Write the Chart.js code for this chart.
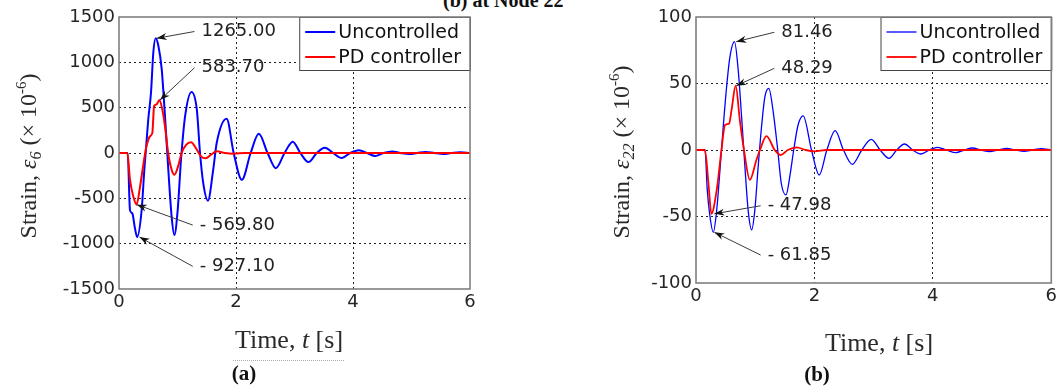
<!DOCTYPE html>
<html>
<head>
<meta charset="utf-8">
<script src="https://cdn.jsdelivr.net/npm/chart.js@4/dist/chart.umd.min.js"></script>
<style>
  html, body { margin: 0; padding: 0; background: #fff; }
  body { width: 1056px; height: 387px; position: relative; overflow: hidden; }
  #chartA { position: absolute; left: 0; top: 0; }
  #chartB { position: absolute; left: 545px; top: 0; }
  #topnote { position: absolute; left: 443px; top: -10px; font: bold 20px "Liberation Serif"; line-height: 20px; color: #111; white-space: nowrap; }
</style>
</head>
<body>
<div id="topnote">(b) at Node 22</div>
<canvas id="chartA" width="540" height="387"></canvas>
<canvas id="chartB" width="515" height="387"></canvas>
<script>
// values
const seriesNames = ['Uncontrolled', 'PD controller'];
const xTickValues = [0, 2, 4, 6];
const yTicksA = [-1500, -1000, -500, 0, 500, 1000, 1500];
const yTicksB = [-100, -50, 0, 50, 100];

// (a) strain e6
const timeUncA = [0, 0.148, 0.188, 0.228, 0.27, 0.31, 0.387, 0.433, 0.50, 0.547, 0.587, 0.628, 0.672, 0.73, 0.786, 0.843, 0.90, 0.946, 1.003, 1.06, 1.13, 1.24, 1.33, 1.385, 1.44, 1.52, 1.61, 1.67, 1.84, 1.96, 2.10, 2.25, 2.39, 2.54, 2.68, 2.83, 2.97, 3.10, 3.24, 3.38, 3.52, 3.66, 3.81, 3.95, 4.10, 4.24, 4.38, 4.52, 4.67, 4.81, 4.96, 5.10, 5.24, 5.39, 5.54, 5.68, 5.83, 6.0];
const strainUncA = [0, 0, -630, -667, -820, -927, -630, -185, 370, 667, 1111, 1265, 1185, 926, 407, -185, -704, -905, -630, -74, 407, 674, 481, 0, -333, -526, -185, 111, 378, 0, -296, 0, 211, 0, -167, 0, 125, 0, -100, 0, 58, 0, -55, 0, 30, 0, -33, 0, 17, 0, -12, 0, 11, 0, -10, 0, 9, 0];
const timePdA = [0, 0.143, 0.188, 0.245, 0.30, 0.36, 0.42, 0.47, 0.53, 0.57, 0.60, 0.644, 0.69, 0.74, 0.786, 0.84, 0.90, 0.946, 1.01, 1.07, 1.15, 1.23, 1.33, 1.40, 1.48, 1.58, 1.67, 1.81, 1.96, 2.15, 6.0];
const strainPdA = [0, 0, -296, -481, -570, -370, -111, 74, 185, 222, 518, 537, 584, 481, 296, 0, -185, -241, -148, 0, 93, 119, 37, -37, -59, -15, 19, 0, -8, 0, 0];

// (b) strain e22
const timeUncB = [0, 0.152, 0.19, 0.236, 0.292, 0.35, 0.405, 0.46, 0.517, 0.573, 0.65, 0.713, 0.77, 0.826, 0.88, 0.94, 0.994, 1.05, 1.107, 1.163, 1.23, 1.30, 1.38, 1.44, 1.52, 1.584, 1.65, 1.724, 1.81, 1.95, 2.08, 2.21, 2.35, 2.49, 2.64, 2.80, 2.96, 3.11, 3.26, 3.39, 3.52, 3.66, 3.80, 3.94, 4.08, 4.23, 4.39, 4.53, 4.67, 4.81, 4.96, 5.10, 5.25, 5.39, 5.54, 5.68, 5.83, 6.0];
const strainUncB = [0, 0, -30, -50, -61.85, -45, -15, 17.5, 47.6, 70, 81.46, 60, 25, -12.5, -45, -60, -45, -12.5, 17.5, 40, 46.4, 30, 0, -25, -33.8, -20, 0, 18.8, 25.6, 0, -18.8, 0, 14.5, 0, -10.8, 0, 8, 0, -6.3, 0, 4.5, 0, -3, 0, 2, 0, -2, 0, 1.5, 0, -1.2, 0, 1.2, 0, -1, 0, 1, 0];
const timePdB = [0, 0.15, 0.21, 0.26, 0.35, 0.43, 0.49, 0.56, 0.60, 0.67, 0.74, 0.81, 0.91, 1.02, 1.08, 1.19, 1.33, 1.43, 1.55, 1.70, 1.85, 2.00, 2.20, 6.0];
const strainPdB = [0, 0, -25, -47.98, -30, 0, 18.8, 20, 30, 48.29, 22.5, 0, -22.5, -7.5, 0, 10.5, 0, -3.8, 0, 2, 0, -1, 0, 0];

// peak callouts: label, arrow tip (t, strain), text anchor (t, strain)
const peakTextA = ['1265.00', '583.70', '- 569.80', '- 927.10'];
const peakAtA = [[0.645, 1265], [0.70, 583.7], [0.305, -569.8], [0.35, -927.1]];
const textAtA = [[1.41, 1340], [1.41, 940], [1.38, -795], [1.38, -1250]];
const peakTextB = ['81.46', '48.29', '- 47.98', '- 61.85'];
const peakAtB = [[0.68, 81.46], [0.68, 48.29], [0.31, -47.98], [0.31, -61.85]];
const textAtB = [[1.44, 88.5], [1.44, 61.4], [1.21, -41.9], [1.21, -79]];

const blue = '#0000ff';
const red = '#ff0000';
const serif = '"Liberation Serif"';

function pts(ts, vs) {
  return ts.map((t, i) => ({x: t, y: vs[i]}));
}

// draws a row of text pieces (different fonts) centred on cx, baseline at by
function drawRuns(ctx, runs, cx, by) {
  let w = 0;
  runs.forEach(r => { ctx.font = r.font; w += ctx.measureText(r.text).width; });
  let x = cx - w / 2;
  ctx.textAlign = 'left';
  ctx.textBaseline = 'alphabetic';
  runs.forEach(r => {
    ctx.font = r.font;
    ctx.fillText(r.text, x, by + (r.dy || 0));
    x += ctx.measureText(r.text).width;
  });
}

const panelPlugin = {
  id: 'panel',
  afterDatasetsDraw(chart, args, o) {
    const {ctx, chartArea: a, scales: {x, y}} = chart;
    ctx.save();

    // callouts
    ctx.font = '18px "DejaVu Sans"';
    o.notes.forEach((txt, i) => {
      const tx = x.getPixelForValue(o.textAt[i][0]);
      const ty = y.getPixelForValue(o.textAt[i][1]);
      const hx = x.getPixelForValue(o.peakAt[i][0]);
      const hy = y.getPixelForValue(o.peakAt[i][1]);
      const sx = tx - 7, sy = ty;
      ctx.strokeStyle = '#3a3a3a';
      ctx.lineWidth = 1;
      ctx.beginPath();
      ctx.moveTo(sx, sy);
      ctx.lineTo(hx, hy);
      ctx.stroke();
      const ang = Math.atan2(hy - sy, hx - sx);
      const c = Math.cos(ang), s = Math.sin(ang);
      ctx.fillStyle = '#111';
      ctx.beginPath();
      ctx.moveTo(hx, hy);
      ctx.lineTo(hx - 10 * c + 3.5 * s, hy - 10 * s - 3.5 * c);
      ctx.lineTo(hx - 7 * c, hy - 7 * s);
      ctx.lineTo(hx - 10 * c - 3.5 * s, hy - 10 * s + 3.5 * c);
      ctx.closePath();
      ctx.fill();
      ctx.fillStyle = '#222';
      ctx.textAlign = 'left';
      ctx.textBaseline = 'middle';
      ctx.fillText(txt, tx, ty);
    });

    // legend box in the top right corner
    ctx.font = '19px "DejaVu Sans"';
    const sets = chart.data.datasets;
    const tw = Math.max(...sets.map(d => ctx.measureText(d.label).width));
    const bw = 6 + 30 + 3 + tw + 9, bh = 53;
    const bx = a.right - bw, by = a.top;
    ctx.fillStyle = '#fff';
    ctx.fillRect(bx, by, bw, bh);
    ctx.strokeStyle = '#444';
    ctx.lineWidth = 1;
    ctx.strokeRect(bx + 0.5, by + 0.5, bw, bh);
    sets.forEach((d, i) => {
      const ly = by + 15 + i * 25;
      ctx.strokeStyle = d.borderColor;
      ctx.lineWidth = d.borderWidth;
      ctx.beginPath();
      ctx.moveTo(bx + 6, ly);
      ctx.lineTo(bx + 36, ly);
      ctx.stroke();
      ctx.fillStyle = '#111';
      ctx.textAlign = 'left';
      ctx.textBaseline = 'middle';
      ctx.fillText(d.label, bx + 39, ly + 1);
    });

    // axes box
    ctx.strokeStyle = '#808080';
    ctx.lineWidth = 1.6;
    ctx.strokeRect(a.left, a.top, a.right - a.left, a.bottom - a.top);
    ctx.restore();
  },
  afterDraw(chart, args, o) {
    const ctx = chart.ctx;
    ctx.save();
    ctx.fillStyle = '#2a2a2a';
    drawRuns(ctx, [
      {text: 'Time, ', font: '26px ' + serif},
      {text: 't', font: 'italic 26px ' + serif},
      {text: ' [s]', font: '26px ' + serif}
    ], o.xTitleX, o.xTitleY);

    ctx.save();
    ctx.translate(o.yTitleX, o.yTitleY);
    ctx.rotate(-Math.PI / 2);
    drawRuns(ctx, [
      {text: 'Strain, ', font: '24px ' + serif},
      {text: 'ε', font: 'italic 24px ' + serif},
      {text: o.sub, font: 'italic 16px ' + serif, dy: 5},
      {text: ' (× 10', font: '24px ' + serif},
      {text: '-6', font: '15px ' + serif, dy: -10},
      {text: ')', font: '24px ' + serif}
    ], 0, 0);
    ctx.restore();

    ctx.fillStyle = '#111';
    drawRuns(ctx, [{text: o.caption, font: 'bold 21px ' + serif}], o.capX, o.capY);

    if (o.underline) {
      ctx.strokeStyle = '#aaa';
      ctx.lineWidth = 1;
      ctx.setLineDash([1, 1]);
      ctx.beginPath();
      ctx.moveTo(o.underline[0], o.underline[2]);
      ctx.lineTo(o.underline[1], o.underline[2]);
      ctx.stroke();
    }
    ctx.restore();
  }
};

function makeChart(id, o) {
  const lastX = xTickValues.length - 1;
  const lastY = o.yTicks.length - 1;
  const tickFont = {family: 'DejaVu Sans', size: 18};
  return new Chart(document.getElementById(id), {
    type: 'line',
    data: {
      datasets: [
        {label: seriesNames[0], data: pts(o.tUnc, o.vUnc), borderColor: blue, borderWidth: o.lw[0], order: 1},
        {label: seriesNames[1], data: pts(o.tPd, o.vPd), borderColor: red, borderWidth: o.lw[1], order: 0}
      ]
    },
    options: {
      responsive: false,
      animation: false,
      devicePixelRatio: 1,
      layout: {padding: o.pad},
      elements: {
        point: {radius: 0},
        line: {cubicInterpolationMode: 'monotone', fill: false}
      },
      plugins: {
        legend: {display: false},
        tooltip: {enabled: false},
        panel: o.panel
      },
      scales: {
        x: {
          type: 'linear',
          min: 0,
          max: 6,
          afterBuildTicks: s => { s.ticks = xTickValues.map(v => ({value: v})); },
          afterFit: s => { s.height = o.xh; },
          grid: {
            drawTicks: false,
            lineWidth: 1,
            color: c => (c.index === 0 || c.index === lastX) ? 'rgba(0,0,0,0)' : '#222'
          },
          border: {display: false, dash: [2, 3]},
          ticks: {font: tickFont, color: '#262626', padding: 3, maxRotation: 0, autoSkip: false, callback: v => String(v)}
        },
        y: {
          min: o.yTicks[0],
          max: o.yTicks[lastY],
          afterBuildTicks: s => { s.ticks = o.yTicks.map(v => ({value: v})); },
          afterFit: s => { s.width = o.yw; },
          grid: {
            drawTicks: false,
            lineWidth: 1,
            color: c => (c.index === 0 || c.index === lastY) ? 'rgba(0,0,0,0)' : '#222'
          },
          border: {display: false, dash: [2, 3]},
          ticks: {font: tickFont, color: '#262626', padding: 4, autoSkip: false, callback: v => String(v)}
        }
      }
    },
    plugins: [panelPlugin]
  });
}

makeChart('chartA', {
  tUnc: timeUncA, vUnc: strainUncA, tPd: timePdA, vPd: strainPdA,
  yTicks: yTicksA, lw: [2, 2],
  pad: {left: 0, top: 17, right: 70, bottom: 0}, yw: 119, xh: 98,
  panel: {
    notes: peakTextA, peakAt: peakAtA, textAt: textAtA,
    sub: '6', xTitleX: 289, xTitleY: 348, yTitleX: 36, yTitleY: 156,
    caption: '(a)', capX: 244, capY: 380, underline: [233, 345, 360.5]
  }
});

makeChart('chartB', {
  tUnc: timeUncB, vUnc: strainUncB, tPd: timePdB, vPd: strainPdB,
  yTicks: yTicksB, lw: [1.3, 1.8],
  pad: {left: 0, top: 17, right: 8, bottom: 0}, yw: 151, xh: 104,
  panel: {
    notes: peakTextB, peakAt: peakAtB, textAt: textAtB,
    sub: '22', xTitleX: 334, xTitleY: 351, yTitleX: 84, yTitleY: 152,
    caption: '(b)', capX: 272, capY: 381, underline: null
  }
});
</script>
</body>
</html>
